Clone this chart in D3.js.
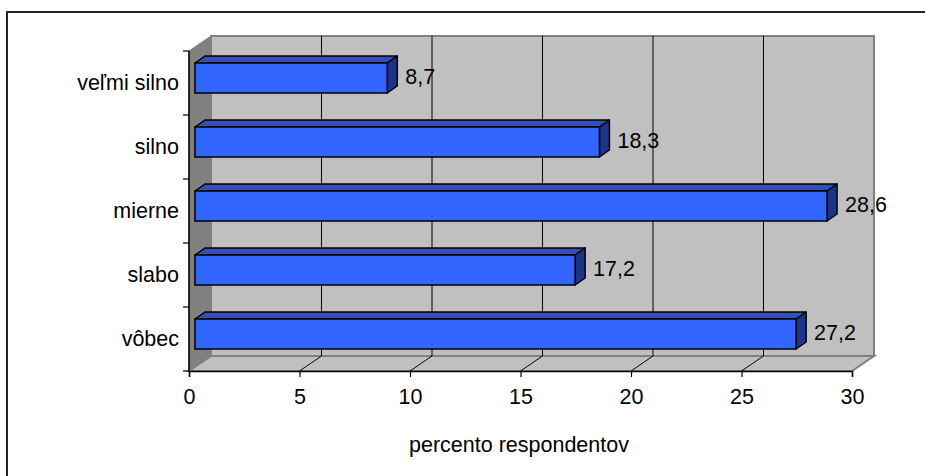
<!DOCTYPE html>
<html>
<head>
<meta charset="utf-8">
<script src="https://cdn.jsdelivr.net/npm/d3@7"></script>
<style>
  html, body { margin: 0; padding: 0; background: #fff; }
  svg { display: block; }
  text { font-family: Arial, "Liberation Sans", sans-serif; fill: #000; }
</style>
</head>
<body>
<div id="chart"></div>
<script>
// ---- data ----
const categories = ["veľmi silno", "silno", "mierne", "slabo", "vôbec"];
const values = [8.7, 18.3, 28.6, 17.2, 27.2];
const valueLabels = ["8,7", "18,3", "28,6", "17,2", "27,2"];
const xTicks = [0, 5, 10, 15, 20, 25, 30];
const xTitle = "percento respondentov";

// ---- layout ----
const W = 925, H = 476;
const FS = "21.5px";
const svg = d3.select("#chart").append("svg").attr("width", W).attr("height", H);
svg.append("rect").attr("width", W).attr("height", H).attr("fill", "#fff");

// chart area border (extends past right/bottom edges)
svg.append("rect")
  .attr("x", 7).attr("y", 12).attr("width", W).attr("height", H)
  .attr("fill", "none").attr("stroke", "#222").attr("stroke-width", 2);

const x = d3.scaleLinear().domain([0, 30]).range([189, 852]);
const y = d3.scaleBand().domain(categories).range([51, 371]);

const DX = 22, DY = -15;           // wall depth
const bdx = 6, bdy = -4;           // bar front offset
const BDX = 10, BDY = -7;          // bar depth
const barH = 30, barPad = 16;

const x0 = x(0), x1 = x(30), yTop = y.range()[0], yBot = y.range()[1];

// left side wall
svg.append("polygon")
  .attr("points", [[x0, yTop], [x0 + DX, yTop + DY], [x0 + DX, yBot + DY], [x0, yBot]].join(" "))
  .attr("fill", "#808080").attr("stroke", "#808080").attr("stroke-width", 1);

// back wall
svg.append("rect")
  .attr("x", x0 + DX).attr("y", yTop + DY)
  .attr("width", x1 - x0).attr("height", yBot - yTop)
  .attr("fill", "#c0c0c0").attr("stroke", "#808080").attr("stroke-width", 2);

// floor
svg.append("polygon")
  .attr("points", [[x0, yBot], [x1, yBot], [x1 + DX, yBot + DY], [x0 + DX, yBot + DY]].join(" "))
  .attr("fill", "#c0c0c0").attr("stroke", "#808080").attr("stroke-width", 2);

// gridlines on back wall and floor diagonals
const grid = svg.append("g");
xTicks.filter(t => t > 0 && t < 30).forEach(t => {
  grid.append("line")
    .attr("x1", x(t) + DX).attr("x2", x(t) + DX)
    .attr("y1", yTop + DY).attr("y2", yBot + DY)
    .attr("stroke", "#000").attr("stroke-width", 1);
  grid.append("line")
    .attr("x1", x(t)).attr("y1", yBot)
    .attr("x2", x(t) + DX).attr("y2", yBot + DY)
    .attr("stroke", "#000").attr("stroke-width", 1);
});

// x axis
const xAxis = d3.axisBottom(x).tickValues(xTicks).tickSize(6).tickPadding(12)
  .tickFormat(d => String(d));
const gx = svg.append("g").attr("transform", `translate(0,${yBot})`).call(xAxis);
gx.select(".domain").attr("stroke", "#000").attr("stroke-width", 1.5);
gx.selectAll(".tick line").attr("stroke", "#000").attr("stroke-width", 1.2);
gx.selectAll(".tick text").style("font-size", FS)
  .style("font-family", "Arial, 'Liberation Sans', sans-serif");

// y axis line + ticks at band boundaries
svg.append("line").attr("x1", x0).attr("x2", x0).attr("y1", yTop).attr("y2", yBot)
  .attr("stroke", "#000").attr("stroke-width", 1.5);
const bounds = categories.map(c => y(c)).concat([yBot]);
svg.selectAll(".ytick").data(bounds).enter().append("line")
  .attr("x1", x0 - 6).attr("x2", x0).attr("y1", d => d).attr("y2", d => d)
  .attr("stroke", "#000").attr("stroke-width", 1.2);

// category labels
svg.selectAll(".cat").data(categories).enter().append("text")
  .attr("x", 179).attr("y", d => y(d) + y.bandwidth() / 2)
  .attr("text-anchor", "end").attr("dominant-baseline", "central")
  .style("font-size", FS).text(d => d);

// bars
const bars = svg.append("g");
categories.forEach((c, i) => {
  const fx0 = x(0) + bdx, fx1 = x(values[i]) + bdx;
  const fy0 = y(c) + barPad + bdy, fy1 = fy0 + barH;
  // top face
  bars.append("polygon")
    .attr("points", [[fx0, fy0], [fx1, fy0], [fx1 + BDX, fy0 + BDY], [fx0 + BDX, fy0 + BDY]].join(" "))
    .attr("fill", "#2a50c8").attr("stroke", "#000").attr("stroke-width", 1.5).attr("stroke-linejoin", "round");
  // side face
  bars.append("polygon")
    .attr("points", [[fx1, fy0], [fx1 + BDX, fy0 + BDY], [fx1 + BDX, fy1 + BDY], [fx1, fy1]].join(" "))
    .attr("fill", "#1c3488").attr("stroke", "#000").attr("stroke-width", 1.5).attr("stroke-linejoin", "round");
  // front face
  bars.append("rect")
    .attr("x", fx0).attr("y", fy0).attr("width", fx1 - fx0).attr("height", barH)
    .attr("fill", "#3366ff").attr("stroke", "#000").attr("stroke-width", 1.5);
  // value label
  bars.append("text")
    .attr("x", fx1 + 18).attr("y", fy0 + barH / 2 - 1)
    .attr("dominant-baseline", "central")
    .style("font-size", FS).text(valueLabels[i]);
});

// axis title
svg.append("text").attr("x", 519).attr("y", 452).attr("text-anchor", "middle")
  .style("font-size", FS).text(xTitle);
</script>
</body>
</html>
